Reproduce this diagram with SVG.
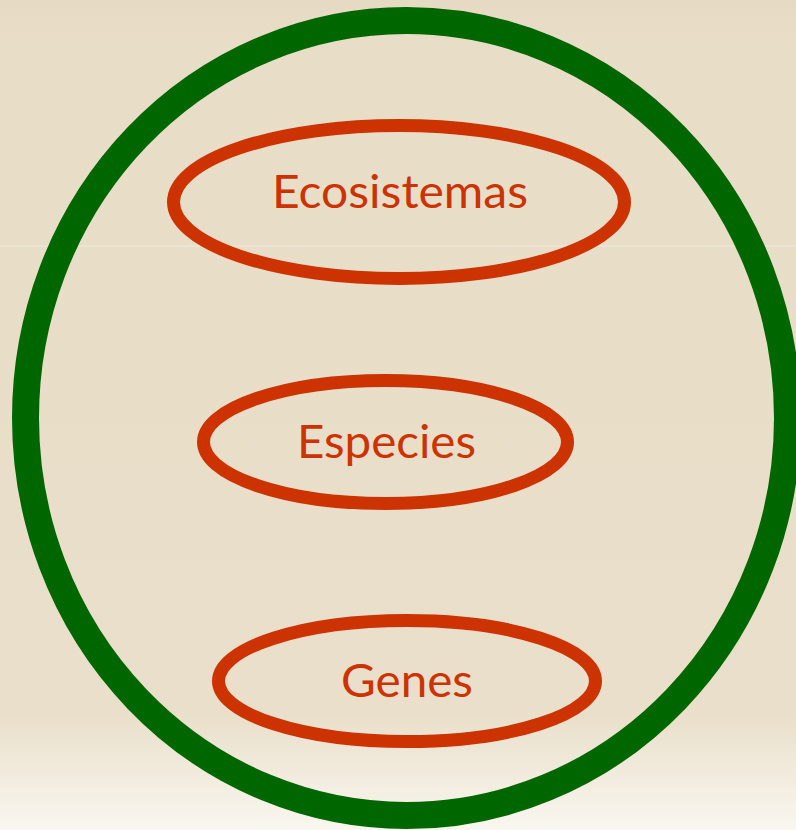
<svg xmlns="http://www.w3.org/2000/svg" width="796" height="830" viewBox="0 0 796 830">
  <defs>
    <linearGradient id="bg" x1="0" y1="0" x2="0" y2="1">
      <stop offset="0" stop-color="#E6DAC3"/>
      <stop offset="0.05" stop-color="#E8DDC7"/>
      <stop offset="0.86" stop-color="#E9DFCA"/>
      <stop offset="1" stop-color="#FAF7F0"/>
    </linearGradient>
  </defs>
  <style>
    .inner { fill: none; stroke: #CC3300; stroke-width: 13; }
    .label { font-family: Lato, "Liberation Sans", Arial, sans-serif; font-size: 46px; fill: #CC3300; text-anchor: middle; }
  </style>
  <rect x="0" y="0" width="796" height="830" fill="url(#bg)"/>
  <rect x="0" y="245.5" width="796" height="1" fill="#F0E9DB"/>
  <g id="biodiversidad">
    <ellipse cx="406.5" cy="418" rx="381" ry="397.5" fill="none" stroke="#006600" stroke-width="27"/>
  </g>
  <g id="connectors"></g>
  <g id="ecosistemas">
    <ellipse class="inner" cx="399" cy="202" rx="225.5" ry="76.5"/>
    <text class="label" x="400" y="208" textLength="256" lengthAdjust="spacingAndGlyphs">Ecosistemas</text>
  </g>
  <g id="especies">
    <ellipse class="inner" cx="385.5" cy="442" rx="182" ry="61.5"/>
    <text class="label" x="386.5" y="458" textLength="179" lengthAdjust="spacingAndGlyphs">Especies</text>
  </g>
  <g id="genes">
    <ellipse class="inner" cx="407" cy="681" rx="188.5" ry="60.5"/>
    <text class="label" x="407" y="697" textLength="132" lengthAdjust="spacingAndGlyphs">Genes</text>
  </g>
</svg>
